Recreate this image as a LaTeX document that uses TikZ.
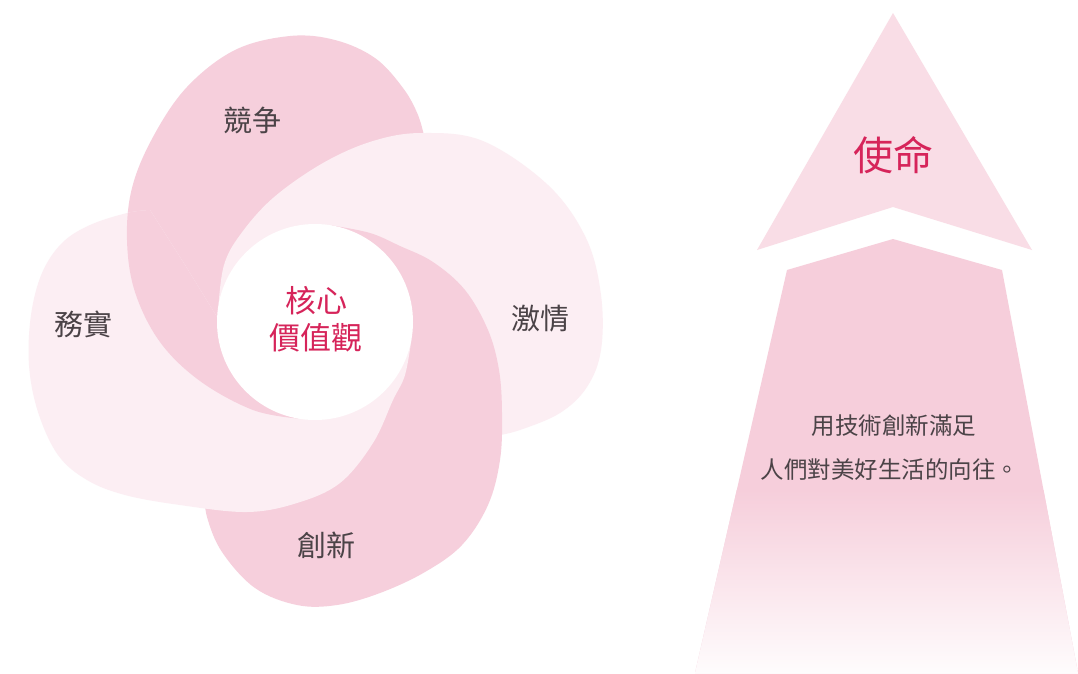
\documentclass[tikz,border=0pt]{standalone}
\usepackage{fontspec}
\newfontfamily\cjk{Noto Sans CJK TC}
\definecolor{petalD}{HTML}{F6CFDC}
\definecolor{petalL}{HTML}{FCEEF3}
\definecolor{arrowTop}{HTML}{F9DDE6}
\definecolor{arrowBody}{HTML}{F6CEDB}
\definecolor{labelgray}{HTML}{4B4347}
\definecolor{crimson}{HTML}{D6245A}
\def\PJZ{plot[smooth,tension=0.6] coordinates {(298,418.5) (253,410) (200,381) (160,342) (135,292) (127,240) (132,188) (153,137) (187,87) (235,50) (290,36) (335,40) (375,58) (403,88) (418,115) (425,140)} -- (420,200) -- (330,300) -- cycle}
\def\PJQ{plot[smooth,tension=0.6] coordinates {(218.5,305) (224,265) (240,235) (273,198) (323,163) (373,141) (422,133) (483,141) (548,185) (586,238) (601,295) (601,350) (587,387) (560,413) (520,430) (495,436)} -- (440,420) -- (330,330) -- cycle}
\def\PCX{plot[smooth,tension=0.6] coordinates {(332,225.5) (370,233) (400,246) (433,262) (465,290) (488,330) (499,370) (502,413) (500,460) (488,505) (462,545) (425,572) (380,593) (337,605) (297,605) (255,588) (222,552) (207,517) (205,495)} -- (230,440) -- (300,340) -- cycle}
\def\PWS{plot[smooth,tension=0.6] coordinates {(411.5,339) (405,375) (393,400) (373,443) (340,483) (297,503) (247,512) (180,505) (125,495) (87,480) (58,455) (38,412) (29,365) (31,315) (42,273) (62,243) (90,225) (127,213) (150,210)} -- (185,265) -- (225,330) -- (315,322) -- cycle}
\tikzset{
  plabel/.style={font=\cjk\fontsize{29}{31}\selectfont, text=labelgray, inner sep=0pt},
  clabel/.style={font=\cjk\fontsize{31}{33}\selectfont, text=crimson, inner sep=0pt},
  mlabel/.style={font=\cjk\fontsize{40}{42}\selectfont, text=crimson, inner sep=0pt},
  tlabel/.style={font=\cjk\fontsize{23.5}{26}\selectfont, text=labelgray, inner sep=0pt},
  corecircle/.style={circle, fill=white, draw=none, minimum size=196pt, inner sep=0pt}
}
\begin{document}
\begin{tikzpicture}[x=1pt,y=-1pt]
\useasboundingbox (0,0) rectangle (1078,673);
\fill[white] (0,0) rectangle (1078,673);
% petals (cyclic overlap: redraw the top petal over the left one)
\fill[petalD] \PJZ;
\fill[petalL] \PJQ;
\fill[petalD] \PCX;
\fill[petalL] \PWS;
\begin{scope}
  \clip \PWS;
  \fill[petalD] \PJZ;
\end{scope}
\node[corecircle] (core) at (315,322) {};
\node[plabel] (jz) at (252,120) {競争};
\node[plabel] (ws) at (83,324) {務實};
\node[plabel] (jq) at (540,319) {激情};
\node[plabel] (cx) at (326,545) {創新};
\node[clabel] (hx) at (316,301) {核心};
\node[clabel] (jzg) at (316,338) {價值觀};
% arrow
\fill[arrowTop] (893,13) -- (1032,250) -- (893,207) -- (757,250) -- cycle;
\fill[arrowBody] (893,239) -- (1002,270) -- (1078,673) -- (695,673) -- (787,270) -- cycle;
\begin{scope}
  \clip (893,239) -- (1002,270) -- (1078,673) -- (695,673) -- (787,270) -- cycle;
  \shade[top color=arrowBody, bottom color=arrowBody!6] (680,490) rectangle (1078,674);
\end{scope}
\node[mlabel] (sm) at (893,155) {使命};
\node[tlabel] (t1) at (894,426) {用技術創新滿足};
\node[tlabel] (t2) at (890,470) {人們對美好生活的向往。};
\end{tikzpicture}
\end{document}
